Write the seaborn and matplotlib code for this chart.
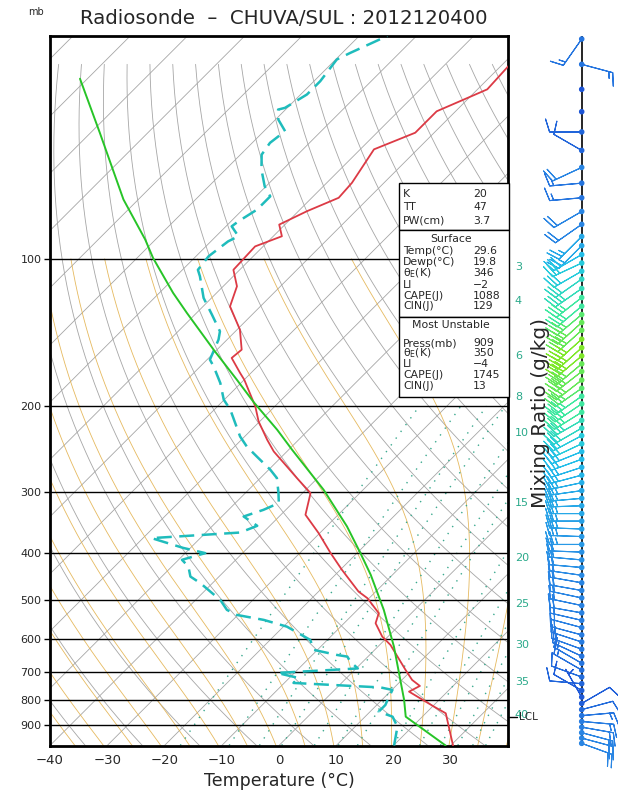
import numpy as np
import matplotlib
matplotlib.use("Agg")
import matplotlib.pyplot as plt
import matplotlib.transforms as mtransforms
from matplotlib.colors import LinearSegmentedColormap
from matplotlib.patches import Rectangle
import seaborn as sns

# ---- sounding values (pressure in mb, temperature in C) ----
TEMP_P = [990, 850.6, 824.5, 768.1, 747.8, 727.0, 693.5, 616.5, 592.7, 556.5, 530.8,
          494.6, 479.5, 432.8, 400.0, 364.0, 333.9, 301.5, 280.9, 265.9, 247.8, 234.5,
          215.1, 200.4, 176.7, 171.2, 159.5, 153.4, 139.6, 125.1, 113.8, 105.3, 94.3,
          89.9, 85.1, 79.9, 75.0, 69.9, 59.7, 55.2, 49.9, 47.2, 45.0, 40.0]
TEMP_T = [30.4, 23.5, 20.3, 13.3, 14.2, 11.8, 8.9, 1.9, -1.0, -4.5, -5.7,
          -10.3, -13.0, -19.7, -24.6, -30.2, -35.7, -38.6, -43.6, -47.4, -52.3, -55.5,
          -60.2, -63.4, -70.0, -71.9, -76.0, -75.7, -79.5, -85.3, -87.6, -91.1, -91.4,
          -88.5, -91.0, -88.5, -85.3, -85.6, -87.6, -83.3, -83.3, -80.6, -78.3, -78.7]

DEW_P = [990, 906.0, 864.3, 844.2, 818.0, 798.9, 762.0, 753.1, 737.3, 720.2, 703.4,
         688.6, 667.9, 651.3, 646.2, 631.1, 602.0, 565.5, 547.9, 535.1, 522.6, 498.6,
         483.0, 460.8, 446.7, 426.1, 412.8, 400.0, 390.2, 372.7, 363.0, 351.7, 336.6,
         326.2, 316.0, 301.5, 280.9, 270.1, 253.7, 242.0, 230.9, 203.5, 194.1, 179.5,
         165.9, 160.8, 146.3, 140.7, 130.1, 120.2, 108.6, 105.3, 98.8, 92.1, 89.9,
         85.8, 83.8, 79.3, 74.5, 71.1, 65.7, 61.2, 57.9, 54.8, 51.9, 49.5, 49.1,
         46.1, 43.3, 39.1, 37.9, 35.0]
DEW_T = [20.1, 17.4, 14.8, 11.5, 11.5, 11.0, 10.1, 7.6, -8.4, -8.4, -13.0,
         0.3, -2.1, -3.6, -5.7, -10.6, -13.0, -19.4, -24.6, -30.2, -32.8, -35.7,
         -38.3, -42.1, -45.0, -47.1, -49.4, -46.5, -51.3, -58.5, -44.0, -42.2, -46.2,
         -43.9, -42.4, -44.2, -47.1, -49.7, -54.4, -57.9, -60.8, -67.2, -70.1, -73.6,
         -77.7, -79.5, -81.5, -82.7, -87.0, -91.4, -95.8, -97.3, -97.8, -97.0, -96.1,
         -99.0, -98.7, -97.5, -97.5, -100.2, -103.7, -106.3, -106.9, -106.3, -109.5, -111.3, -110.4,
         -108.9, -108.9, -109.8, -108.6, -105.1]

PARCEL_P = [990, 864.3, 798.9, 699.0, 621.4, 522.6, 443.1, 400.0, 352.8, 296.8, 245.8,
            223.7, 196.5, 176.7, 153.4, 129.0, 117.4, 99.6, 91.3, 75.6, 55.2, 42.8]
PARCEL_T = [29.1, 17.1, 13.9, 8.0, 2.8, -5.4, -13.8, -19.4, -26.4, -36.9, -49.4,
            -55.5, -64.4, -71.3, -80.6, -91.7, -97.6, -107.2, -111.8, -122.6, -138.4, -151.3]
LCL_P = 864

# winds: pressure (mb), direction (deg), speed (kt)
WIND_P = [35.5, 40, 45, 50, 55, 60, 65, 70, 75, 80, 85, 90, 94,
          98, 102, 106, 110, 115, 120, 125, 130, 135, 140,
          146, 152, 158, 164, 170, 177, 184, 191, 198, 206,
          214, 222, 230, 239, 248, 257, 267, 277, 287, 298,
          309, 320, 332, 344, 357, 370, 384, 398, 413, 428,
          444, 460, 477, 494, 512, 530, 549, 568, 588, 608,
          629, 650, 672, 694, 717, 740, 764, 788, 812, 836,
          860, 884, 908, 932, 956, 980]
WIND_DIR = [215, 105, 0, 0, 270, 300, 245, 265, 265, 240, 235, 225, 225,
            240, 245, 240, 235, 235, 232, 230, 230, 228, 228,
            228, 228, 230, 230, 232, 232, 235, 235, 236, 238,
            240, 240, 242, 245, 248, 250, 252, 255, 258, 262,
            265, 268, 270, 270, 272, 272, 270, 272, 275, 275,
            278, 280, 280, 282, 282, 280, 283, 285, 285, 288,
            290, 295, 300, 300, 290, 275, 300, 330, 60, 75,
            85, 95, 100, 105, 105, 110]
WIND_SPD = [15, 15, 0, 0, 10, 10, 20, 15, 15, 20, 20, 25, 25,
            28, 30, 30, 32, 33, 35, 35, 37, 38, 38,
            40, 40, 40, 38, 38, 38, 37, 35, 35, 35,
            33, 32, 30, 30, 28, 28, 27, 27, 26, 25,
            25, 25, 25, 24, 24, 23, 23, 22, 22, 22,
            21, 20, 20, 20, 19, 19, 18, 18, 17, 17,
            16, 15, 15, 13, 12, 10, 8, 6, 8, 12,
            15, 17, 18, 20, 20, 20]

# index boxes
INDEX_NAMES = ["K", "TT", "PW(cm)"]
INDEX_VALUES = ["20", "47", "3.7"]
SURFACE_NAMES = ["Temp(°C)", "Dewp(°C)", r"$\theta_E$(K)", "LI", "CAPE(J)", "CIN(J)"]
SURFACE_VALUES = ["29.6", "19.8", "346", "\u22122", "1088", "129"]
MU_NAMES = ["Press(mb)", r"$\theta_E$(K)", "LI", "CAPE(J)", "CIN(J)"]
MU_VALUES = ["909", "350", "\u22124", "1745", "13"]

PRESS_LEVELS = [100, 200, 300, 400, 500, 600, 700, 800, 900]
TEMP_TICKS = [-40, -30, -20, -10, 0, 10, 20, 30]
MR_LABELS = ["3", "4", "6", "8", "10", "15", "20", "25", "30", "35", "40"]
MR_LABEL_P = [104, 122, 158, 192, 227, 316, 409, 508, 617, 734, 858]
MR_LINES = [1, 2, 3, 4, 6, 8, 10, 15, 20, 25, 30, 35, 40]

SKEW = 37.1
P_BOT = 990.0
P_TOP = 35.0


def skew_x(t, p):
    return np.asarray(t, float) + SKEW * np.log(P_BOT / np.asarray(p, float))


def moist_adiabat(t0, p):
    rd, cpd, lv, eps = 287.04, 1005.7, 2.501e6, 0.622

    def rate(tk, pp):
        es = 6.112 * np.exp(17.67 * (tk - 273.15) / (tk - 29.65))
        rs = eps * es / (pp - es)
        return (rd * tk + lv * rs) / (cpd + lv * lv * rs * eps / (rd * tk * tk))

    tk = t0 + 273.15
    out = [tk]
    for i in range(1, len(p)):
        dl = np.log(p[i] / p[i - 1])
        k1 = rate(tk, p[i - 1])
        k2 = rate(tk + k1 * dl, p[i])
        tk = tk + 0.5 * (k1 + k2) * dl
        out.append(tk)
    return np.array(out) - 273.15


sns.set_theme(style="white")
plt.rcParams["font.family"] = ["DejaVu Sans"]
plt.rcParams["mathtext.default"] = "regular"

fig = plt.figure(figsize=(6.18, 8.0), dpi=100)
ax = fig.add_axes([50 / 618, 1 - 745.5 / 800, 458 / 618, 709.5 / 800])
ax.set_yscale("log")

# background: isotherms, dry adiabats, moist adiabats, mixing ratio lines
for t in range(-170, 50, 10):
    ax.plot(skew_x([t, t], [P_BOT, P_TOP]), [P_BOT, P_TOP], color="#a6a6a6", lw=0.6, zorder=1)

p_dry = np.geomspace(P_BOT, 40, 150)
for theta in range(230, 510, 10):
    t = theta * (p_dry / 1000.0) ** 0.2857 - 273.15
    ax.plot(skew_x(t, p_dry), p_dry, color="#a6a6a6", lw=0.6, zorder=1)

p_moist = np.geomspace(1000, 100, 300)
for t0 in range(-40, 45, 5):
    t = moist_adiabat(t0, p_moist)
    ax.plot(skew_x(t, p_moist), p_moist, color="#e3b24e", lw=0.6, alpha=0.9, zorder=1)

p_mr = np.geomspace(P_BOT, 200, 60)
for w in MR_LINES:
    e = w * p_mr / (622.0 + w)
    le = np.log(e / 6.112)
    td = 243.5 * le / (17.67 - le)
    ax.plot(skew_x(td, p_mr), p_mr, color="#3aa98e", lw=1.0, ls=(0, (1, 5)), zorder=1)

ax.hlines(PRESS_LEVELS, -40, 40, color="black", lw=1.0, zorder=2)

# sounding profiles
sns.lineplot(x=skew_x(TEMP_T, TEMP_P), y=TEMP_P, sort=False, estimator=None,
             color="#dc3a45", lw=1.3, ax=ax, zorder=4)
sns.lineplot(x=skew_x(DEW_T, DEW_P), y=DEW_P, sort=False, estimator=None,
             color="#1fbcbc", lw=1.8, linestyle=(0, (6, 3)), ax=ax, zorder=4)
sns.lineplot(x=skew_x(PARCEL_T, PARCEL_P), y=PARCEL_P, sort=False, estimator=None,
             color="#27c427", lw=1.4, ax=ax, zorder=5)

ax.set_xlim(-40, 40)
ax.set_ylim(P_BOT, P_TOP)
ax.set_xticks(TEMP_TICKS)
ax.set_xticklabels([f"{v}".replace("-", "\u2212") for v in TEMP_TICKS], fontsize=9.5)
ax.set_yticks(PRESS_LEVELS)
ax.set_yticklabels([str(v) for v in PRESS_LEVELS], fontsize=8)
ax.yaxis.set_minor_locator(matplotlib.ticker.NullLocator())
ax.tick_params(axis="x", length=0, pad=6)
ax.tick_params(axis="y", length=4, width=1, color="black", pad=2, left=True)
ax.set_xlabel("Temperature (°C)", fontsize=12.5, labelpad=4)
ax.set_ylabel("")
for s in ax.spines.values():
    s.set_color("black")
    s.set_linewidth(2)

# mixing ratio labels and LCL on the right edge
trans = mtransforms.blended_transform_factory(ax.transAxes, ax.transData)
for lab, p in zip(MR_LABELS, MR_LABEL_P):
    ax.text(1.015, p, lab, transform=trans, color="#2aa98a", fontsize=8,
            ha="left", va="center", clip_on=False)
ax.plot([1.0, 1.02], [LCL_P, LCL_P], transform=trans, color="black", lw=1, clip_on=False)
ax.text(1.024, LCL_P, "LCL", transform=trans, fontsize=7.5, ha="left", va="center", clip_on=False)

fig.text(541 / 618, 1 - 413 / 800, "Mixing Ratio (g/kg)", rotation=90, fontsize=14.5,
         ha="center", va="center")
fig.text(284 / 618, 1 - 18 / 800, "Radiosonde  \u2013  CHUVA/SUL : 2012120400",
         ha="center", va="center", fontsize=14.2)
fig.text(36 / 618, 1 - 12 / 800, "mb", ha="center", va="center", fontsize=7)

# index boxes
def box(y0, y1):
    fig.add_artist(Rectangle((399 / 618, 1 - y1 / 800), 109.5 / 618, (y1 - y0) / 800,
                             transform=fig.transFigure, facecolor="white",
                             edgecolor="black", lw=1.0, zorder=10))


def rows(names, values, ys):
    for n, v, y in zip(names, values, ys):
        fig.text(403 / 618, 1 - y / 800, n, fontsize=7.8, va="center", ha="left", zorder=11)
        fig.text(473 / 618, 1 - y / 800, v, fontsize=7.8, va="center", ha="left", zorder=11)


box(182.5, 229.5)
rows(INDEX_NAMES, INDEX_VALUES, [194, 207.5, 220.5])
box(229.5, 317)
fig.text(451 / 618, 1 - 238.5 / 800, "Surface", fontsize=7.8, ha="center", va="center", zorder=11)
rows(SURFACE_NAMES, SURFACE_VALUES, [251.5, 262, 273, 285, 296, 306.5])
box(317, 397.5)
fig.text(451 / 618, 1 - 325.5 / 800, "Most Unstable", fontsize=7.8, ha="center", va="center", zorder=11)
rows(MU_NAMES, MU_VALUES, [343, 353.5, 364, 375, 386])

# wind barbs column
ax2 = fig.add_axes([545 / 618, 1 - 745.5 / 800, 73.4 / 618, 709.5 / 800])
ax2.set_yscale("log")
ax2.set_ylim(P_BOT, P_TOP)
ax2.set_xlim(-1, 1)
ax2.axis("off")
ax2.plot([0, 0], [P_BOT, P_TOP], color="black", lw=1.2, zorder=1)

spd = np.array(WIND_SPD, float)
rad = np.deg2rad(WIND_DIR)
u = -spd * np.sin(rad)
v = -spd * np.cos(rad)
cmap = LinearSegmentedColormap.from_list(
    "wind", [(0.0, "#1d55d6"), (0.45, "#2a88e4"), (0.68, "#22c4ea"),
             (0.86, "#3fe8a0"), (1.0, "#7fe82a")])
ax2.barbs(np.zeros(len(WIND_P)), WIND_P, u, v, spd, cmap=cmap, clim=(5, 40),
          length=6.8, lw=0.8, sizes=dict(emptybarb=0), clip_on=False, zorder=2)
ax2.scatter(np.zeros(len(WIND_P)), WIND_P, c=spd, cmap=cmap, vmin=5, vmax=40,
            s=9, zorder=3, clip_on=False)

fig.savefig("out.png", dpi=100)
